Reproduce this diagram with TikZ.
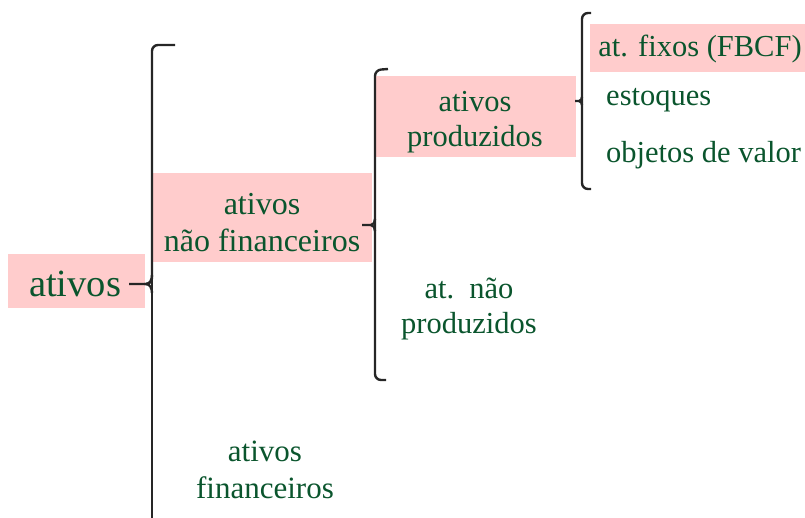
\documentclass[tikz,border=0pt]{standalone}
\usepackage{fontspec}
\setmainfont{Liberation Serif}
\definecolor{txtgreen}{RGB}{10,85,45}
\definecolor{pinkbox}{RGB}{255,204,204}
\begin{document}
\begin{tikzpicture}[x=1pt,y=-1pt,
  lbl/.style={text=txtgreen,align=center,inner sep=0pt,font=\fontsize{30.5}{35}\selectfont},
  lblL/.style={text=txtgreen,align=left,anchor=west,inner sep=0pt,font=\fontsize{30.5}{35}\selectfont},
  box/.style={fill=pinkbox,inner sep=0pt},
  brace/.style={line width=2.4pt,black!85,rounded corners=6pt},
  tip/.style={line width=2.4pt,black!85}]
\useasboundingbox (0,0) rectangle (805,517);
% boxes
\node[box,minimum width=137pt,minimum height=54pt] (b0) at (76.5,281) {};
\node[box,minimum width=220pt,minimum height=89pt] (b1) at (262,217.5) {};
\node[box,minimum width=200pt,minimum height=81pt] (b2) at (476,116.5) {};
\node[box,minimum width=215pt,minimum height=48pt] (b3) at (697.5,48) {};
% texts
\node[lbl,font=\fontsize{38.5}{40}\selectfont] (t0) at (75,284) {ativos};
\node[lbl,font=\fontsize{32}{37}\selectfont] (t1) at (262,223) {ativos\\não financeiros};
\node[lbl] (t2) at (475,122) {ativos\\produzidos};
\node[lbl] (t3) at (469,309) {at.\ \ não\\produzidos};
\node[lbl,font=\fontsize{31}{37}\selectfont] (t4) at (265,470) {ativos\\financeiros};
\node[lbl] (t5) at (700,49) {at. fixos (FBCF)};
\node[lblL] (t6) at (606,100) {estoques};
\node[lblL] (t7) at (606,155) {objetos de valor};
% big brace
\coordinate (c0) at (129,284);
\draw[brace] (175,45) -- (152,45) -- (152,284) -- (144,284);
\draw[brace] (152,270) -- (152,525);
\draw[tip] (c0) -- (146,284) to[out=0,in=-90] (152,275);
\draw[tip] (146,284) to[out=0,in=90] (152,293);
% second brace
\coordinate (c1) at (362,225);
\draw[brace] (388,69) -- (375,70) -- (375,380) -- (386,380);
\draw[tip] (c1) -- (371,225) to[out=0,in=-90] (375,219);
\draw[tip] (371,225) to[out=0,in=90] (375,231);
% third brace
\coordinate (c2) at (575,101);
\draw[brace] (591,13) -- (582,13) -- (582,189) -- (591,189);
\draw[tip] (c2) -- (579,101) to[out=0,in=-90] (582,97);
\draw[tip] (579,101) to[out=0,in=90] (582,105);
\end{tikzpicture}
\end{document}
